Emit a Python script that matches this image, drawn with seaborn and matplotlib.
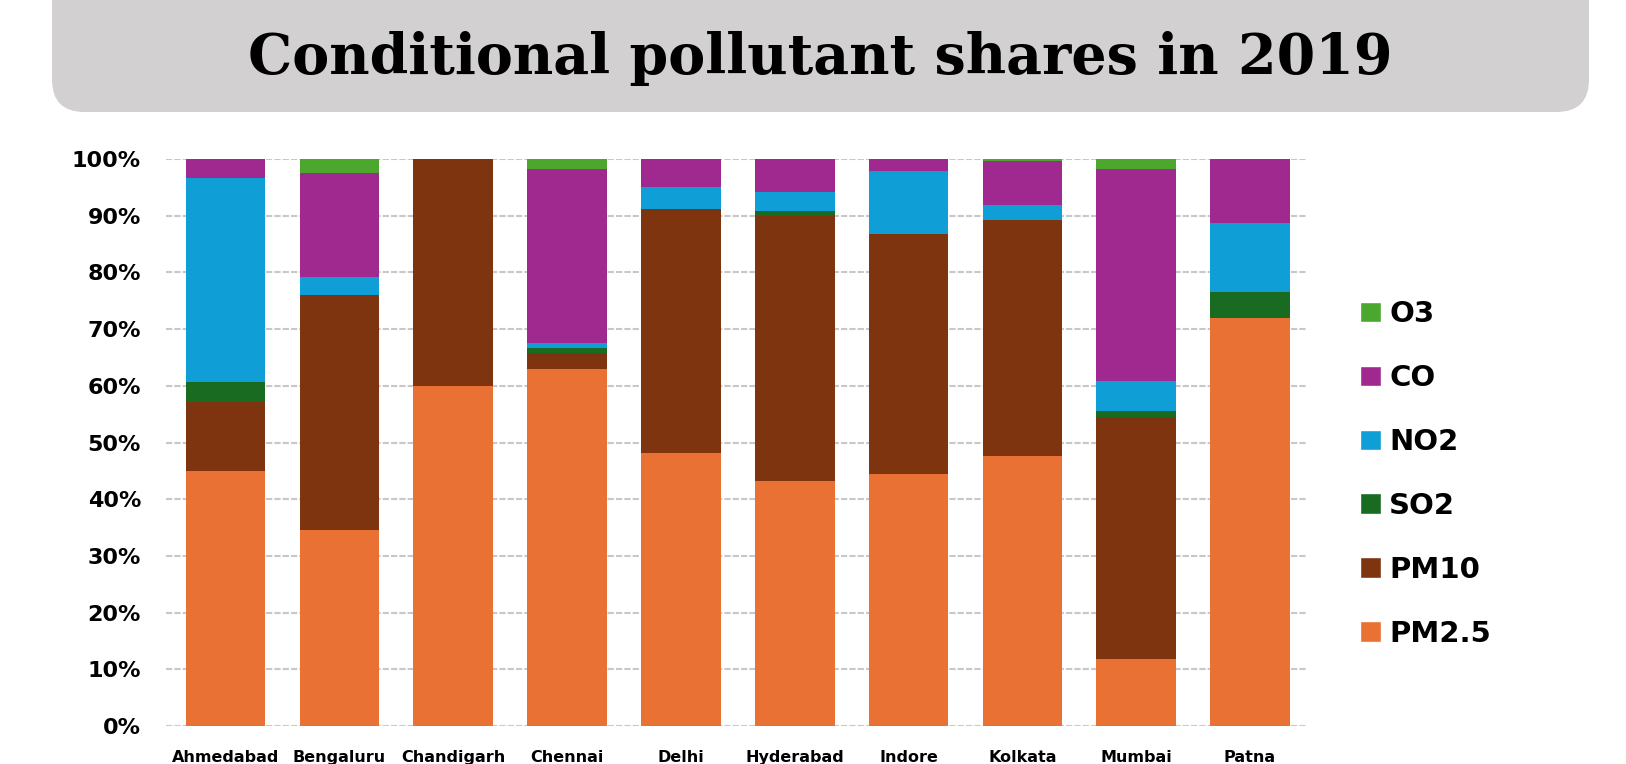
import numpy as np
import pandas as pd
import matplotlib
matplotlib.use('Agg')
import matplotlib.pyplot as plt
from matplotlib.patches import FancyBboxPatch, Patch
import seaborn as sns

cities = ['Ahmedabad', 'Bengaluru', 'Chandigarh', 'Chennai', 'Delhi',
          'Hyderabad', 'Indore', 'Kolkata', 'Mumbai', 'Patna']

# shares in %, bottom to top
pm25 = [44.9, 34.6, 60.0, 63.0, 48.1, 43.3, 44.4, 47.6, 11.8, 72.0]
pm10 = [12.2, 41.4, 40.0, 2.8, 43.0, 46.6, 42.4, 41.6, 42.7, 0.0]
so2 = [3.5, 0.0, 0.0, 0.9, 0.0, 0.9, 0.0, 0.0, 1.1, 4.5]
no2 = [36.0, 3.2, 0.0, 0.8, 3.9, 3.4, 11.1, 2.6, 5.3, 12.2]
co = [3.4, 18.4, 0.0, 30.7, 5.0, 5.8, 2.1, 7.8, 37.3, 11.3]
o3 = [0.0, 2.4, 0.0, 1.8, 0.0, 0.0, 0.0, 0.4, 1.8, 0.0]

pollutants = ['PM2.5', 'PM10', 'SO2', 'NO2', 'CO', 'O3']
colors = ['#E87133', '#7F3410', '#1A6B22', '#0F9FD6', '#A0298F', '#4CA72F']

df = pd.DataFrame({'PM2.5': pm25, 'PM10': pm10, 'SO2': so2,
                   'NO2': no2, 'CO': co, 'O3': o3}, index=cities)
cum = df[pollutants].cumsum(axis=1)

sns.set_style('white')
fig = plt.figure(figsize=(16.26, 7.64), dpi=100)
ax = fig.add_axes([0.1021, 0.0497, 0.7017, 0.7422])

# draw cumulative totals from the top layer down so that they stack
for p, c in reversed(list(zip(pollutants, colors))):
    sns.barplot(x=cities, y=cum[p].values, color=c, saturation=1,
                width=0.70, linewidth=0, edgecolor='none', ax=ax, zorder=3)

ax.set_xlim(-0.523, 9.5)
ax.set_ylim(0, 100)
ax.set_yticks(np.arange(0, 101, 10))
ax.set_yticklabels([f'{v}%' for v in range(0, 101, 10)],
                   fontsize=16, fontweight='bold', family='DejaVu Sans', color='black')
ax.set_xticks(range(len(cities)))
ax.set_xticklabels(cities, fontsize=11.5, fontweight='bold', family='DejaVu Sans',
                   color='black')
ax.tick_params(axis='y', length=0, pad=18)
ax.tick_params(axis='x', length=0, pad=17)
ax.yaxis.grid(True, color='#c8c8c8', linestyle=(0, (3, 1)), linewidth=1.5, zorder=0)
ax.set_axisbelow(True)
for s in ax.spines.values():
    s.set_visible(False)
ax.set_xlabel('')
ax.set_ylabel('')

handles = [Patch(facecolor=c, label=p) for p, c in zip(pollutants, colors)][::-1]
leg = fig.legend(handles=handles, loc='upper left', bbox_to_anchor=(0.8365, 0.607),
                 frameon=False, prop={'family': 'DejaVu Sans', 'weight': 'bold', 'size': 21},
                 handlelength=0.7, handleheight=0.7, handletextpad=0.3,
                 labelspacing=1.23, borderpad=0, borderaxespad=0)
for t in leg.get_texts():
    t.set_color('black')

# title banner
box = FancyBboxPatch((52 / 1626, 1 - 112 / 764), 1537 / 1626, 200 / 764,
                     boxstyle='round,pad=0,rounding_size=0.02',
                     transform=fig.transFigure, facecolor='#d2d0d1',
                     edgecolor='none', mutation_aspect=1626 / 764)
fig.patches.append(box)
fig.text(820 / 1626, 1 - 59 / 764, 'Conditional pollutant shares in 2019',
         ha='center', va='center', fontsize=40, fontweight='bold',
         family='DejaVu Serif', color='black')

fig.savefig('out.png', dpi=100)
